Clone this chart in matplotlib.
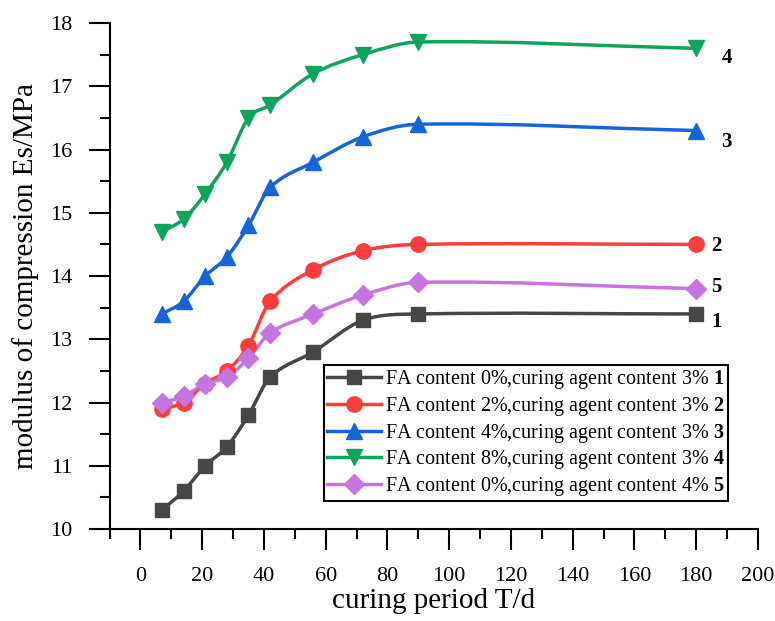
import numpy as np
import matplotlib.pyplot as plt
from matplotlib.path import Path
from matplotlib.patches import PathPatch
from matplotlib.lines import Line2D
from matplotlib.ticker import MultipleLocator

plt.rcParams['font.family'] = ['Liberation Serif', 'DejaVu Serif']
plt.rcParams['mathtext.fontset'] = 'custom'
plt.rcParams['mathtext.bf'] = 'Liberation Serif:bold'
plt.rcParams['mathtext.rm'] = 'Liberation Serif'

# curing period (days) and modulus of compression (MPa)
days = [7, 14, 21, 28, 35, 42, 56, 72, 90, 180]
es_1 = [10.3, 10.6, 11.0, 11.3, 11.8, 12.4, 12.8, 13.3, 13.4, 13.4]
es_2 = [11.9, 12.0, 12.3, 12.5, 12.9, 13.6, 14.1, 14.4, 14.5, 14.5]
es_3 = [13.4, 13.6, 14.0, 14.3, 14.8, 15.4, 15.8, 16.2, 16.4, 16.3]
es_4 = [14.7, 14.9, 15.3, 15.8, 16.5, 16.7, 17.2, 17.5, 17.7, 17.6]
es_5 = [12.0, 12.1, 12.3, 12.4, 12.7, 13.1, 13.4, 13.7, 13.9, 13.8]

series = [es_1, es_2, es_3, es_4, es_5]
tags = ['1', '2', '3', '4', '5']
legend_text = ['FA content 0%,curing agent content 3% ',
               'FA content 2%,curing agent content 3% ',
               'FA content 4%,curing agent content 3% ',
               'FA content 8%,curing agent content 3% ',
               'FA content 0%,curing agent content 4% ']
colors = ['#464646', '#FF3C3C', '#1464DC', '#0CA55A', '#C673E3']
markers = ['s', 'o', '^', 'v', 'D']
msizes = [10, 11, 12, 12, 10]
tag_offsets = [(11, -6), (11, -1), (18, -8), (18, -7), (11, 1)]


def smooth_path(x, y):
    """cubic bezier through the points, tangents from neighbouring secants"""
    x = np.asarray(x, float)
    y = np.asarray(y, float)
    m = np.empty_like(y)
    m[1:-1] = (y[2:] - y[:-2]) / (x[2:] - x[:-2])
    m[0] = (y[1] - y[0]) / (x[1] - x[0])
    m[-1] = (y[-1] - y[-2]) / (x[-1] - x[-2])
    verts = [(x[0], y[0])]
    codes = [Path.MOVETO]
    for i in range(len(x) - 1):
        h = x[i + 1] - x[i]
        verts += [(x[i] + h / 3, y[i] + m[i] * h / 3),
                  (x[i + 1] - h / 3, y[i + 1] - m[i + 1] * h / 3),
                  (x[i + 1], y[i + 1])]
        codes += [Path.CURVE4] * 3
    return Path(verts, codes)


fig = plt.figure(figsize=(7.75, 6.21), dpi=100)
ax = fig.add_axes([0.1413, 0.1481, 0.8368, 0.8148])

handles = []
for vals, c, mk, ms, tag, off in zip(series, colors, markers, msizes, tags, tag_offsets):
    ax.add_patch(PathPatch(smooth_path(days, vals), fill=False, edgecolor=c, lw=2.5, zorder=2))
    ax.plot(days, vals, ls='none', marker=mk, ms=ms, color=c, zorder=3)
    ax.annotate(tag, (days[-1], vals[-1]), xytext=off, textcoords='offset points',
                ha='left', va='center', fontsize=15, fontweight='bold')
    handles.append(Line2D([], [], color=c, lw=2.5, marker=mk, ms=ms))

labels = [t + r'$\mathbf{' + n + '}$' for t, n in zip(legend_text, tags)]
leg = ax.legend(handles, labels, loc='upper left', bbox_to_anchor=(324 / 775, 1 - 365 / 621),
                bbox_transform=fig.transFigure, fancybox=False, edgecolor='black', framealpha=1,
                fontsize=14.5, handlelength=2.7, handletextpad=0.2, borderpad=0.15,
                labelspacing=0.19, borderaxespad=0)
leg.get_frame().set_linewidth(1.5)

ax.set_xlim(-10, 200)
ax.set_ylim(10, 18)
ax.xaxis.set_major_locator(MultipleLocator(20))
ax.xaxis.set_minor_locator(MultipleLocator(10))
ax.yaxis.set_major_locator(MultipleLocator(1))
ax.yaxis.set_minor_locator(MultipleLocator(0.5))
ax.tick_params(which='major', direction='out', length=15, width=1.5, pad=12, labelsize=16)
ax.tick_params(which='minor', direction='out', length=7, width=1.5)

for s in ['top', 'right']:
    ax.spines[s].set_visible(False)
for s in ['left', 'bottom']:
    ax.spines[s].set_linewidth(1.5)

ax.set_xlabel('curing period T/d', fontsize=21, labelpad=2)
ax.set_ylabel('modulus of compression Es/MPa', fontsize=21)
ax.yaxis.set_label_coords(-0.109, 0.5)

fig.savefig('out.png', dpi=100)
